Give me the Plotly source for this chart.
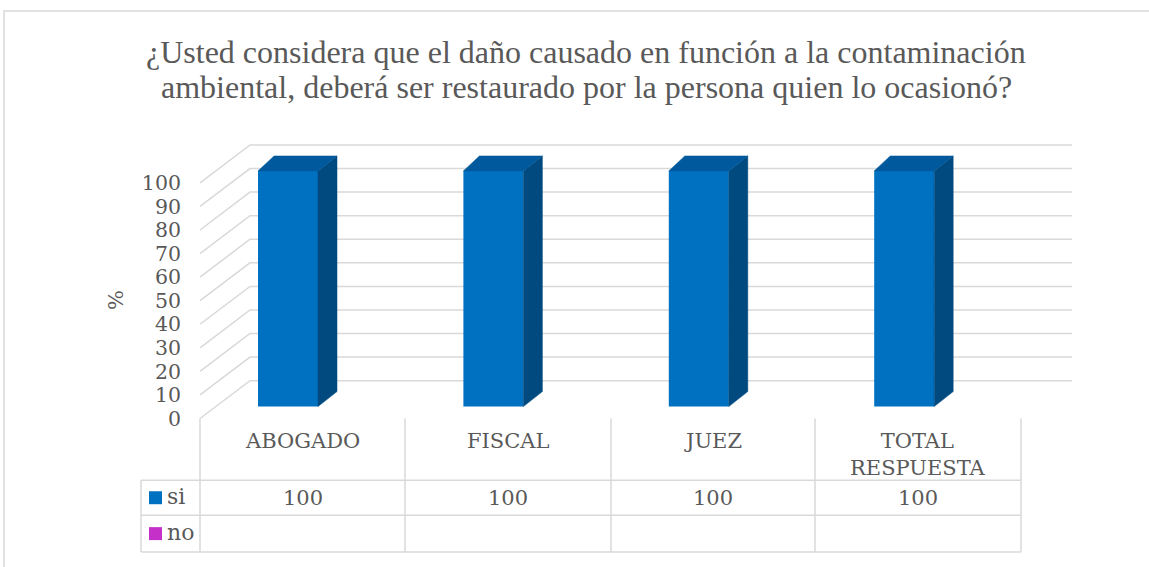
import plotly.graph_objects as go

# data
CATEGORIES = ["ABOGADO", "FISCAL", "JUEZ", "TOTAL<br>RESPUESTA"]
SI = [100, 100, 100, 100]
NO = [None, None, None, None]
SERIES = ["si", "no"]
Y_TICKS = [0, 10, 20, 30, 40, 50, 60, 70, 80, 90, 100]
TITLE_LINES = [
    "¿Usted considera que el daño causado en función a la contaminación",
    "ambiental, deberá ser restaurado por la persona quien lo ocasionó?",
]

W, H = 1149, 567
TEXT = "#595959"
GRID = "#D9D9D9"
FRONT, TOP, SIDE = "#0070C0", "#00599C", "#004A80"
NO_COLOR = "#C530C8"
SERIF = "Liberation Serif, Times New Roman, serif"
GEORGIA = "DejaVu Serif, Georgia, serif"


def px(x):
    return x / W


def py(y):
    return 1 - y / H


# plot geometry (pixels)
X0, X1, CAT_W = 185.3, 1100, 205.4   # x axis: left/right edge, category width
Y_BOT, Y_TOP = 430, 140              # y domain in pixels
PX_PER_U = 2.365                     # pixels per percent


def xu(p):
    return (p - X0) / CAT_W - 0.5


DEPTH_U = 38 / PX_PER_U           # wall depth in y units
BAR_W = 60 / CAT_W
DX_L, DX_R, DY = 16 / CAT_W, 19 / CAT_W, 15 / PX_PER_U

fig = go.Figure()

# walls: back wall gridlines + side wall lines
gx, gy = [], []
for v in Y_TICKS:
    gx += [xu(200), xu(250), xu(1072), None]
    gy += [v, v + DEPTH_U, v + DEPTH_U, None]
fig.add_trace(go.Scatter(
    x=gx, y=gy, mode="lines",
    line=dict(color=GRID, width=1.5),
    hoverinfo="skip", xaxis="x", yaxis="y"
))

# 3D bars for "si"
idx = list(range(len(CATEGORIES)))
for i, v in zip(idx, SI):
    l, r = i - BAR_W / 2, i + BAR_W / 2
    fig.add_trace(go.Scatter(
        x=[r, r, r + DX_R, r + DX_R, r], y=[0, v, v + DY, DY, 0],
        fill="toself", fillcolor=SIDE, mode="lines",
        line=dict(color=SIDE, width=0.5), hoverinfo="skip",
        xaxis="x", yaxis="y2"
    ))
    fig.add_trace(go.Scatter(
        x=[l, r, r + DX_R, l + DX_L, l], y=[v, v, v + DY, v + DY, v],
        fill="toself", fillcolor=TOP, mode="lines",
        line=dict(color=TOP, width=0.5), hoverinfo="skip",
        xaxis="x", yaxis="y2"
    ))
fig.add_trace(go.Bar(
    x=idx, y=SI, width=BAR_W, name="si",
    marker=dict(color=FRONT, line=dict(width=0)),
    xaxis="x", yaxis="y2"
))

y_dom = [py(Y_BOT), py(Y_TOP)]
span = (Y_BOT - Y_TOP) / PX_PER_U
lo1 = (420 - Y_BOT) / PX_PER_U
lo2 = (408 - Y_BOT) / PX_PER_U

fig.update_layout(
    width=W, height=H,
    margin=dict(l=0, r=0, t=0, b=0),
    paper_bgcolor="white", plot_bgcolor="rgba(0,0,0,0)",
    showlegend=False,
    xaxis=dict(domain=[px(X0), px(X1)], range=[-0.5, xu(X1)],
               visible=False, fixedrange=True),
    yaxis=dict(domain=y_dom, range=[lo1, lo1 + span], anchor="free",
               position=px(181), tickvals=Y_TICKS, ticks="",
               showgrid=False, zeroline=False, showline=False,
               tickfont=dict(family=GEORGIA, size=20.5, color=TEXT)),
    yaxis2=dict(domain=y_dom, range=[lo2, lo2 + span], overlaying="y",
                anchor="x", visible=False),
)


def note(x, y, text, size, family=GEORGIA, **kw):
    opts = dict(xanchor="center", yanchor="middle")
    opts.update(kw)
    fig.add_annotation(x=px(x), y=py(y), xref="paper", yref="paper",
                       text=text, showarrow=False,
                       font=dict(family=family, size=size, color=TEXT), **opts)


# title
for k, line in enumerate(TITLE_LINES):
    note(586, 52 + 35 * k, line, 32, family=SERIF)

# y axis title
note(116, 301, "%", 21, textangle=-90)

# data table
line_style = dict(color=GRID, width=1.5)
cols = [200, 405, 611, 815, 1021]
rows = [482, 517, 554]
for c in cols:
    fig.add_shape(type="line", xref="paper", yref="paper",
                  x0=px(c), x1=px(c), y0=py(420), y1=py(554), line=line_style)
fig.add_shape(type="line", xref="paper", yref="paper",
              x0=px(141), x1=px(141), y0=py(482), y1=py(554), line=line_style)
for r in rows:
    fig.add_shape(type="line", xref="paper", yref="paper",
                  x0=px(141), x1=px(1021), y0=py(r), y1=py(r), line=line_style)

for k, cat in enumerate(CATEGORIES):
    cx = (cols[k] + cols[k + 1]) / 2
    note(cx, 429, cat, 21, yanchor="top")
    note(cx, 500, str(SI[k]), 21)

# legend keys in table
for k, (name, color) in enumerate(zip(SERIES, [FRONT, NO_COLOR])):
    yc = 499.5 + 36 * k
    fig.add_shape(type="rect", xref="paper", yref="paper",
                  x0=px(149), x1=px(162), y0=py(yc - 6.5), y1=py(yc + 6.5),
                  fillcolor=color, line=dict(width=0))
    note(165, yc - 1, name, 22, xanchor="left")

# chart border
fig.add_shape(type="rect", xref="paper", yref="paper",
              x0=px(4), x1=px(1200), y0=py(11), y1=py(600),
              line=dict(color=GRID, width=1.5))

fig.write_html("out.html", config={"displayModeBar": False},
               post_script="document.body.style.margin='0';")
